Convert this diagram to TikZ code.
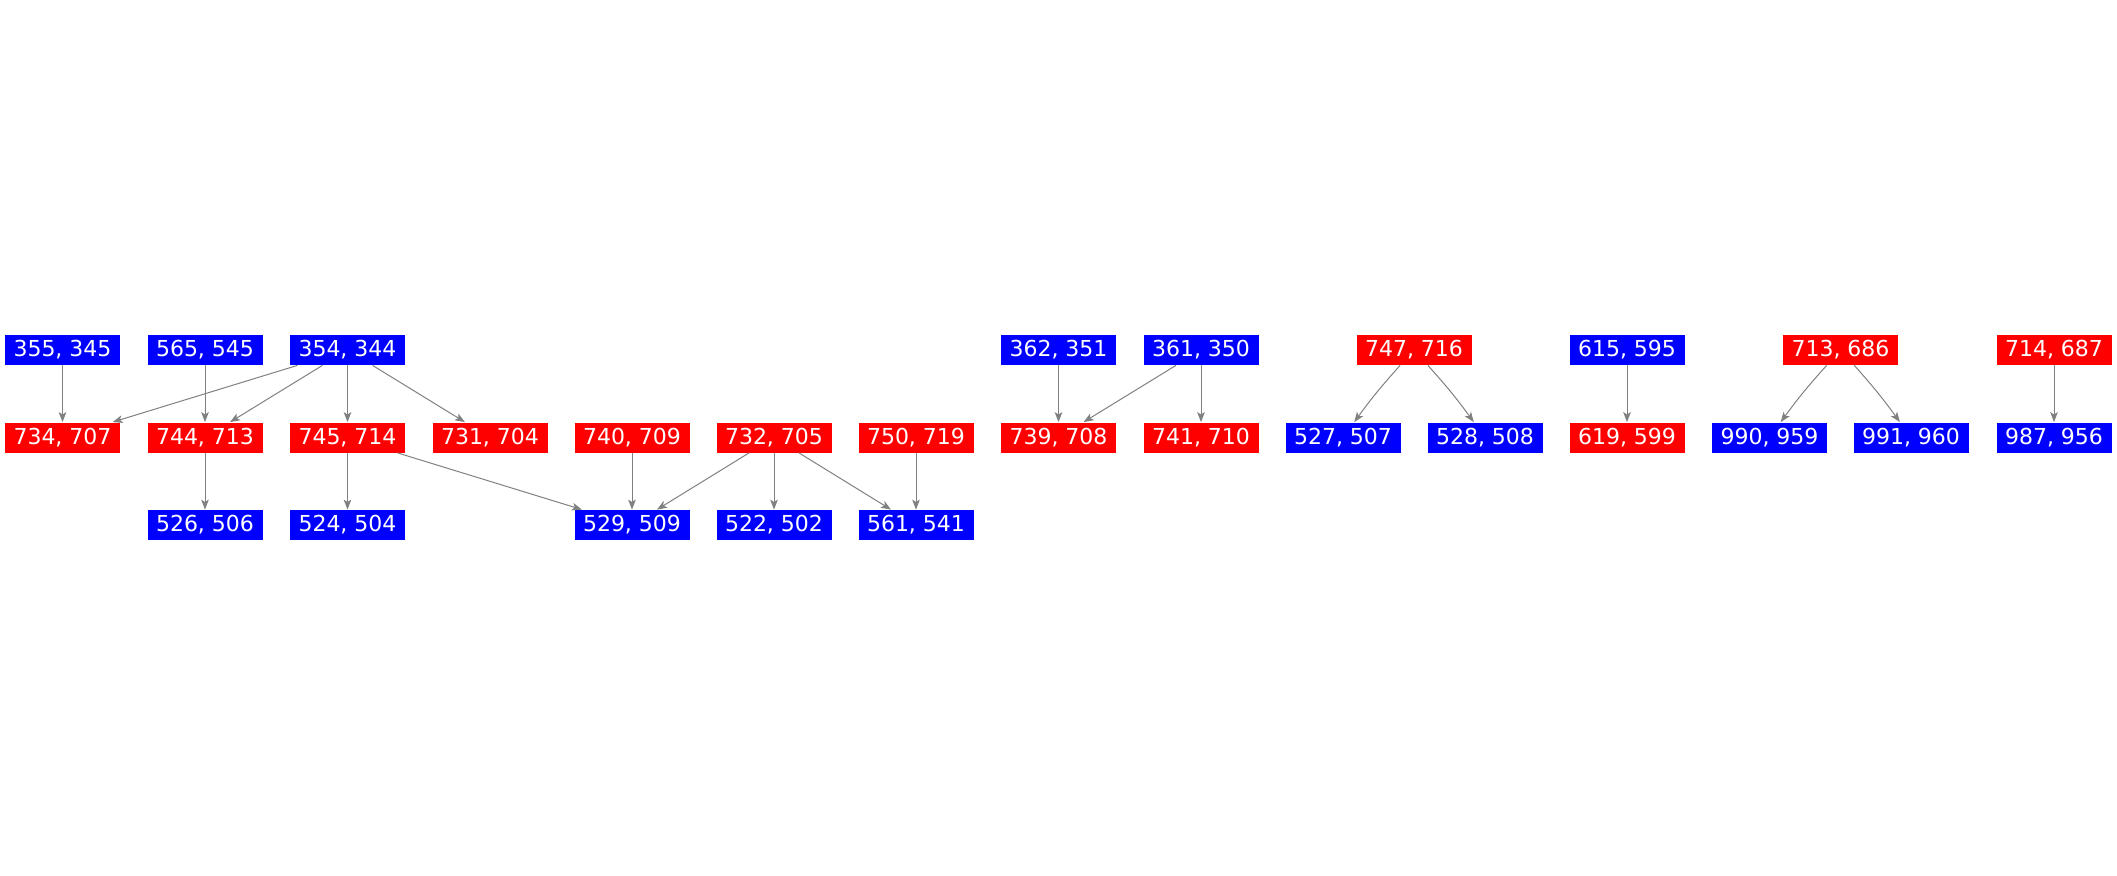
\documentclass[tikz,border=0pt]{standalone}
\usepackage{fontspec}
\setmainfont{DejaVu Sans}
\usetikzlibrary{arrows.meta}
\definecolor{nblue}{RGB}{0,0,255}
\definecolor{nred}{RGB}{255,0,0}
\definecolor{egray}{RGB}{128,128,128}
\tikzset{
  box/.style={minimum width=57.5pt, minimum height=15pt, inner sep=0pt, text=white,
    font=\fontsize{11}{13}\selectfont},
  bnode/.style={box, fill=nblue},
  rnode/.style={box, fill=nred},
  edge/.style={draw=egray, line width=0.5pt, -{Stealth[length=5pt, width=3.8pt, inset=1.2pt]}}
}
\begin{document}
\begin{tikzpicture}[x=0.5pt, y=-0.5pt]
\useasboundingbox (0,0) rectangle (2117,875);
% row y
\def\ra{350}\def\rb{437.5}\def\rc{525}
\node[bnode] (a1) at (62.5,\ra) {355, 345};
\node[bnode] (a2) at (205,\ra) {565, 545};
\node[bnode] (a3) at (347.5,\ra) {354, 344};
\node[rnode] (b1) at (62.5,\rb) {734, 707};
\node[rnode] (b2) at (205,\rb) {744, 713};
\node[rnode] (b3) at (347.5,\rb) {745, 714};
\node[rnode] (b4) at (490,\rb) {731, 704};
\node[rnode] (b5) at (632,\rb) {740, 709};
\node[rnode] (b6) at (774,\rb) {732, 705};
\node[rnode] (b7) at (916,\rb) {750, 719};
\node[bnode] (c2) at (205,\rc) {526, 506};
\node[bnode] (c3) at (347.5,\rc) {524, 504};
\node[bnode] (c5) at (632,\rc) {529, 509};
\node[bnode] (c6) at (774,\rc) {522, 502};
\node[bnode] (c7) at (916,\rc) {561, 541};
\node[bnode] (a8) at (1058.5,\ra) {362, 351};
\node[bnode] (a9) at (1201,\ra) {361, 350};
\node[rnode] (b8) at (1058.5,\rb) {739, 708};
\node[rnode] (b9) at (1201,\rb) {741, 710};
\node[rnode] (a10) at (1414,\ra) {747, 716};
\node[bnode] (b10) at (1343,\rb) {527, 507};
\node[bnode] (b11) at (1485,\rb) {528, 508};
\node[bnode] (a12) at (1627,\ra) {615, 595};
\node[rnode] (b12) at (1627,\rb) {619, 599};
\node[rnode] (a13) at (1840.5,\ra) {713, 686};
\node[bnode] (b13) at (1769.5,\rb) {990, 959};
\node[bnode] (b14) at (1911,\rb) {991, 960};
\node[rnode] (a15) at (2054,\ra) {714, 687};
\node[bnode] (b15) at (2054,\rb) {987, 956};
\draw[edge] (a1) -- (b1);
\draw[edge] (a2) -- (b2);
\draw[edge] (a3) -- (b1);
\draw[edge] (a3) -- (b2);
\draw[edge] (a3) -- (b3);
\draw[edge] (a3) -- (b4);
\draw[edge] (b2) -- (c2);
\draw[edge] (b3) -- (c3);
\draw[edge] (b3) -- (c5);
\draw[edge] (b5) -- (c5);
\draw[edge] (b6) -- (c5);
\draw[edge] (b6) -- (c6);
\draw[edge] (b6) -- (c7);
\draw[edge] (b7) -- (c7);
\draw[edge] (a8) -- (b8);
\draw[edge] (a9) -- (b8);
\draw[edge] (a9) -- (b9);
\draw[edge] (a10) to[bend right=3] (b10);
\draw[edge] (a10) to[bend left=3] (b11);
\draw[edge] (a12) -- (b12);
\draw[edge] (a13) to[bend right=3] (b13);
\draw[edge] (a13) to[bend left=3] (b14);
\draw[edge] (a15) -- (b15);
\end{tikzpicture}
\end{document}
